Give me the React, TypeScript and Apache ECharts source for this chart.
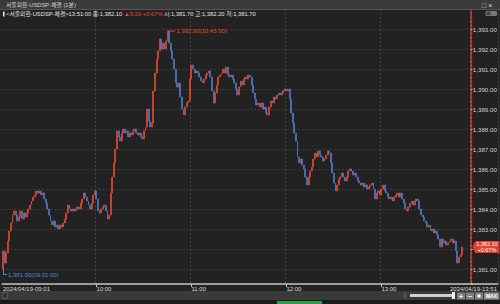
import React, { useEffect, useRef } from 'react';
import * as echarts from 'echarts';

// ---- data (1-minute closes, 09:01 .. 13:51) ----
const firstOpen = 1381.0;
const closes = [
  1381.9, 1381.3, 1381.8, 1382.4, 1382.9, 1383.3, 1383.7, 1383.9, 1383.7, 1383.4,
  1383.6, 1383.9, 1383.5, 1383.8, 1383.6, 1383.8, 1384.0, 1384.2, 1384.4, 1384.6,
  1384.7, 1384.9, 1384.8, 1384.9, 1384.7, 1384.8, 1384.5, 1384.3, 1384.0, 1383.7,
  1383.4, 1383.2, 1383.4, 1383.1, 1383.2, 1383.0, 1383.2, 1383.1, 1383.3, 1383.5,
  1383.8, 1384.2, 1384.0, 1383.9, 1384.0, 1383.9, 1384.0, 1384.1, 1384.0, 1384.3,
  1384.5, 1384.8, 1384.6, 1384.4, 1384.2, 1384.0, 1384.3, 1384.7, 1384.9, 1384.5,
  1383.9, 1383.8, 1384.0, 1384.1, 1384.2, 1383.9, 1383.5, 1383.7, 1384.8, 1385.6,
  1386.3, 1387.0, 1387.9, 1387.6, 1387.4, 1387.8, 1388.0, 1387.8, 1387.9, 1387.6,
  1387.8, 1387.7, 1387.9, 1388.0, 1387.8, 1387.7, 1387.8, 1387.6, 1387.5, 1387.9,
  1388.1, 1389.0, 1388.4, 1388.1, 1388.3, 1389.9, 1390.8, 1391.5, 1391.9, 1392.5,
  1392.0, 1392.3, 1392.0, 1392.4, 1392.9, 1392.3, 1391.9, 1391.5, 1391.0, 1390.3,
  1390.1, 1390.3, 1389.6, 1389.0, 1388.7, 1389.1, 1389.3, 1389.4, 1390.5, 1391.2,
  1391.0, 1390.8, 1390.9, 1390.8, 1390.6, 1390.4, 1390.3, 1390.5, 1390.7, 1390.8,
  1390.9, 1390.6, 1389.9, 1389.3, 1389.8, 1390.2, 1390.6, 1390.7, 1390.8, 1391.0,
  1390.8, 1391.1, 1390.7, 1390.6, 1390.7, 1390.5, 1390.3, 1390.0, 1389.7, 1390.1,
  1390.4, 1390.2, 1390.5, 1390.6, 1390.5, 1390.7, 1390.6, 1390.2, 1389.8, 1389.5,
  1389.2, 1389.3, 1389.1, 1389.3, 1389.0, 1389.1, 1388.8, 1388.7, 1389.1, 1389.4,
  1389.3, 1389.6, 1389.5, 1389.7, 1389.8, 1389.7, 1389.8, 1389.9, 1390.0, 1389.9,
  1390.0, 1389.5, 1388.8, 1388.3, 1387.8, 1387.4, 1386.6, 1386.3, 1386.5, 1386.2,
  1386.0, 1385.6, 1385.2, 1385.6, 1385.9, 1386.1, 1386.5, 1386.8, 1386.6, 1386.9,
  1386.7, 1386.6, 1386.4, 1386.5, 1386.7, 1386.9, 1386.8, 1386.3, 1385.8, 1385.3,
  1384.9, 1385.2, 1385.5, 1385.6, 1385.8, 1385.6, 1385.4, 1385.6, 1385.9, 1386.0,
  1385.9, 1385.7, 1385.8, 1385.6, 1385.4, 1385.3, 1385.2, 1385.3, 1385.1, 1385.2,
  1385.0, 1385.1, 1385.2, 1385.3, 1385.0, 1384.5, 1384.8, 1384.9, 1384.7, 1385.0,
  1385.2, 1384.9, 1384.8, 1384.6, 1384.5, 1384.6, 1384.4, 1384.6, 1384.7, 1384.8,
  1384.6, 1384.8, 1384.5, 1384.3, 1384.0, 1383.9, 1384.1, 1384.3, 1384.4, 1384.2,
  1384.4, 1384.5, 1384.4, 1384.0, 1383.7, 1383.6, 1383.4, 1383.3, 1383.1, 1383.2,
  1382.9, 1383.0, 1382.8, 1382.9, 1382.7, 1382.5, 1382.1, 1382.5, 1382.3, 1382.4,
  1382.2, 1382.3, 1382.4, 1382.5, 1382.3, 1382.4, 1381.9, 1381.3, 1381.6, 1381.7,
  1382.1,
];
const prevClose = 1372.9;
const tickTimes = ['09:01', '10:00', '11:00', '12:00', '13:00'];
const tickLabels = ['2024/04/19-09:01', '10:00', '11:00', '12:00', '13:00'];
const endLabel = '2024/04/19-13:51';
const gridTimes = ['10:00', '11:00', '12:00', '13:00'];
const titleText = '서울외환-USDSP-체결 (1분)';
const infoA = '<서울외환-USDSP-체결>13:51:00 종:1,382.10 ';
const infoB = '▲9.20 +0.67% ';
const infoC = '시:1,381.70 고:1,382.20 저:1,381.70';

const startMinute = 9 * 60 + 1;
const endMinute = 13 * 60 + 51;
const padSlots = 22;

const FONT = '"Liberation Sans", "Noto Sans CJK KR", sans-serif';
const UP = '#e5472f';
const DOWN = '#4d78c8';
const BG = '#222222';

const fmt = (v: number) =>
  v.toLocaleString('en-US', { minimumFractionDigits: 2, maximumFractionDigits: 2 });

export default function App() {
  const ref = useRef<HTMLDivElement>(null);
  useEffect(() => {
    document.body.style.margin = '0';
    const chart = echarts.init(ref.current!, undefined, { renderer: 'svg', width: 500, height: 304 });

    const times: string[] = [];
    for (let m = startMinute; m <= endMinute; m++) {
      times.push(`${String(Math.floor(m / 60)).padStart(2, '0')}:${String(m % 60).padStart(2, '0')}`);
    }
    const cats = [...times, ...Array.from({ length: padSlots - 1 }, (_, k) => `pad${k}`), 'end'];
    const ohlc = closes.map((c, i) => {
      const o = i === 0 ? firstOpen : closes[i - 1];
      return [o, c, Math.min(o, c), Math.max(o, c)];
    });
    let maxIdx = 0, minIdx = 0;
    ohlc.forEach((d, i) => {
      if (d[3] > ohlc[maxIdx][3]) maxIdx = i;
      if (d[2] < ohlc[minIdx][2]) minIdx = i;
    });
    const maxVal = ohlc[maxIdx][3];
    const minVal = ohlc[minIdx][2];
    const last = closes[closes.length - 1];
    const pct = ((last - prevClose) / prevClose) * 100;

    const tickIdx = tickTimes.map((t) => cats.indexOf(t));
    const gridIdx = gridTimes.map((t) => cats.indexOf(t));
    const lastSlot = cats.length - 1;

    const option: any = {
      animation: false,
      backgroundColor: BG,
      textStyle: { fontFamily: FONT },
      grid: { left: 2, right: 2, top: 9, bottom: 20, containLabel: false },
      xAxis: {
        type: 'category',
        data: cats,
        boundaryGap: true,
        axisLine: { lineStyle: { color: '#c4c4c4', width: 1.5 } },
        axisTick: {
          show: true,
          alignWithLabel: true,
          interval: (i: number) => tickIdx.includes(i) && i !== 0,
          length: 3,
          lineStyle: { color: '#c4c4c4' },
        },
        axisLabel: {
          interval: (i: number) => tickIdx.includes(i) || i === lastSlot,
          formatter: (v: string) => {
            if (v === 'end') return endLabel;
            const k = tickTimes.indexOf(v);
            return k >= 0 ? tickLabels[k] : '';
          },
          color: '#dddddd',
          fontSize: 6,
          fontFamily: FONT,
          align: 'left',
          margin: 2,
          showMaxLabel: true,
          alignMaxLabel: 'right',
          hideOverlap: false,
        },
        splitLine: {
          show: true,
          interval: (i: number) => gridIdx.includes(i),
          lineStyle: { color: '#444444', type: [2, 2] },
        },
      },
      yAxis: {
        type: 'value',
        position: 'right',
        offset: -27,
        min: 1380.25,
        max: 1394,
        splitNumber: 14,
        scale: true,
        axisLine: { show: true, lineStyle: { color: '#c9392a', width: 1.5 } },
        axisTick: { show: true, length: 2, lineStyle: { color: '#cccccc' } },
        minorTick: { show: true, splitNumber: 5, length: 1.5, lineStyle: { color: '#d85a48' } },
        axisLabel: {
          color: '#cfcfcf',
          fontSize: 6.2,
          fontFamily: FONT,
          margin: 2,
          // the current-price box sits over the tick nearest the last close
          formatter: (v: number) => (Math.abs(v - last) < 0.6 ? '' : fmt(v)),
          showMinLabel: false,
          showMaxLabel: false,
          backgroundColor: BG,
        },
        splitLine: { show: true, lineStyle: { color: '#3c3c3c', type: [2, 2] } },
      },
      series: [
        {
          type: 'candlestick',
          data: ohlc,
          barWidth: 1.4,
          itemStyle: { color: UP, color0: DOWN, borderColor: UP, borderColor0: DOWN, borderWidth: 0.7 },
          markPoint: {
            silent: true,
            data: [
              {
                coord: [maxIdx, maxVal],
                symbol: 'rect',
                symbolSize: [7, 1],
                symbolOffset: [4, 0],
                itemStyle: { color: UP },
                label: {
                  show: true,
                  position: 'right',
                  distance: 1,
                  formatter: `${fmt(maxVal)}(${cats[maxIdx]}:00)`,
                  color: UP,
                  fontSize: 6,
                  fontFamily: FONT,
                },
              },
              {
                coord: [minIdx, minVal],
                symbol: 'path://M0,0 L1,0 L1,5 L4,5 L4,6 L0,6 Z',
                symbolSize: [4, 6],
                symbolOffset: [2, 3],
                itemStyle: { color: '#5a82cc' },
                label: {
                  show: true,
                  position: 'right',
                  distance: 1,
                  offset: [0, 3],
                  formatter: `${fmt(minVal)}(${cats[minIdx]}:00)`,
                  color: '#5a82cc',
                  fontSize: 6,
                  fontFamily: FONT,
                },
              },
              {
                coord: [305, last],
                symbol: 'path://M0,6 L3,0 L29,0 L29,12 L3,12 Z',
                symbolSize: [27, 12],
                itemStyle: { color: '#e0402d' },
                label: {
                  show: true,
                  position: 'inside',
                  offset: [1, 0],
                  formatter: `${fmt(last)}\n+${pct.toFixed(2)}%`,
                  color: '#ffffff',
                  fontSize: 5.5,
                  lineHeight: 6,
                  fontFamily: FONT,
                },
              },
            ],
          },
        },
      ],
      graphic: [
        { type: 'rect', z: 100, shape: { x: 0, y: 0, width: 500, height: 9.5 }, style: { fill: '#3b3b3b' } },
        { type: 'line', z: 100, shape: { x1: 0, y1: 9.5, x2: 500, y2: 9.5 }, style: { stroke: '#555', lineWidth: 1 } },
        {
          type: 'text', z: 101, x: 6, y: 5,
          style: { text: titleText, fill: '#d6d6d6', fontSize: 5.8, fontFamily: FONT, verticalAlign: 'middle' },
        },
        {
          type: 'text', z: 101, x: 482, y: 5,
          style: { text: '□ ×', fill: '#dddddd', fontSize: 7, fontFamily: FONT, verticalAlign: 'middle' },
        },
        { type: 'rect', z: 101, shape: { x: 3, y: 11.5, width: 1.5, height: 5 }, style: { fill: '#eeeeee' } },
        {
          type: 'text', z: 101, x: 6, y: 14.3,
          style: {
            text: `{w|${infoA}}{r|${infoB}}{w|${infoC}}`,
            fontSize: 5.8,
            fontFamily: FONT,
            verticalAlign: 'middle',
            rich: {
              w: { fill: '#e2e2e2', fontSize: 5.8, fontFamily: FONT },
              r: { fill: UP, fontSize: 5.8, fontFamily: FONT },
            },
          },
        },
        { type: 'rect', z: 101, shape: { x: 486, y: 11.5, width: 5, height: 4 }, style: { fill: '#444', stroke: '#999', lineWidth: 0.6 } },
        { type: 'rect', z: 101, shape: { x: 491.5, y: 11.5, width: 5, height: 4 }, style: { fill: '#777', stroke: '#999', lineWidth: 0.6 } },
        // bottom scroll bar
        { type: 'rect', z: 100, shape: { x: 0, y: 291, width: 500, height: 9 }, style: { fill: '#3a3a3a' } },
        { type: 'rect', z: 101, shape: { x: 3, y: 292.5, width: 4, height: 6 }, style: { fill: '#2a2a2a', stroke: '#777', lineWidth: 0.6 } },
        { type: 'rect', z: 101, shape: { x: 404, y: 292.5, width: 2, height: 6 }, style: { fill: '#555' } },
        { type: 'rect', z: 101, shape: { x: 410, y: 294, width: 45, height: 3 }, style: { fill: '#cfcfcf' } },
        { type: 'rect', z: 102, shape: { x: 452, y: 292, width: 3, height: 7 }, style: { fill: '#eeeeee' } },
        { type: 'rect', z: 101, shape: { x: 457, y: 292.5, width: 8, height: 7 }, style: { fill: '#808080' } },
        { type: 'rect', z: 101, shape: { x: 466, y: 292.5, width: 8, height: 7 }, style: { fill: '#808080' } },
        { type: 'rect', z: 101, shape: { x: 475, y: 292.5, width: 8, height: 7 }, style: { fill: '#808080' } },
        { type: 'rect', z: 101, shape: { x: 484, y: 292.5, width: 15, height: 7 }, style: { fill: '#909090' } },
        { type: 'text', z: 102, x: 461, y: 296, style: { text: '+', fill: '#fff', fontSize: 7, fontWeight: 'bold', fontFamily: FONT, align: 'center', verticalAlign: 'middle' } },
        { type: 'text', z: 102, x: 470, y: 296, style: { text: '−', fill: '#fff', fontSize: 7, fontWeight: 'bold', fontFamily: FONT, align: 'center', verticalAlign: 'middle' } },
        { type: 'rect', z: 102, shape: { x: 477.5, y: 294.5, width: 3, height: 3 }, style: { fill: '#fff' } },
        { type: 'text', z: 102, x: 491.5, y: 296, style: { text: 'MAX', fill: '#fff', fontSize: 5, fontWeight: 'bold', fontFamily: FONT, align: 'center', verticalAlign: 'middle' } },
        { type: 'rect', z: 100, shape: { x: 0, y: 300, width: 500, height: 4 }, style: { fill: '#1c1c1c' } },
        { type: 'rect', z: 101, shape: { x: 277, y: 301, width: 45, height: 3 }, style: { fill: '#27a347' } },
      ],
    };
    chart.setOption(option);
    return () => chart.dispose();
  }, []);
  return <div ref={ref} style={{ width: 500, height: 304, background: BG }} />;
}
